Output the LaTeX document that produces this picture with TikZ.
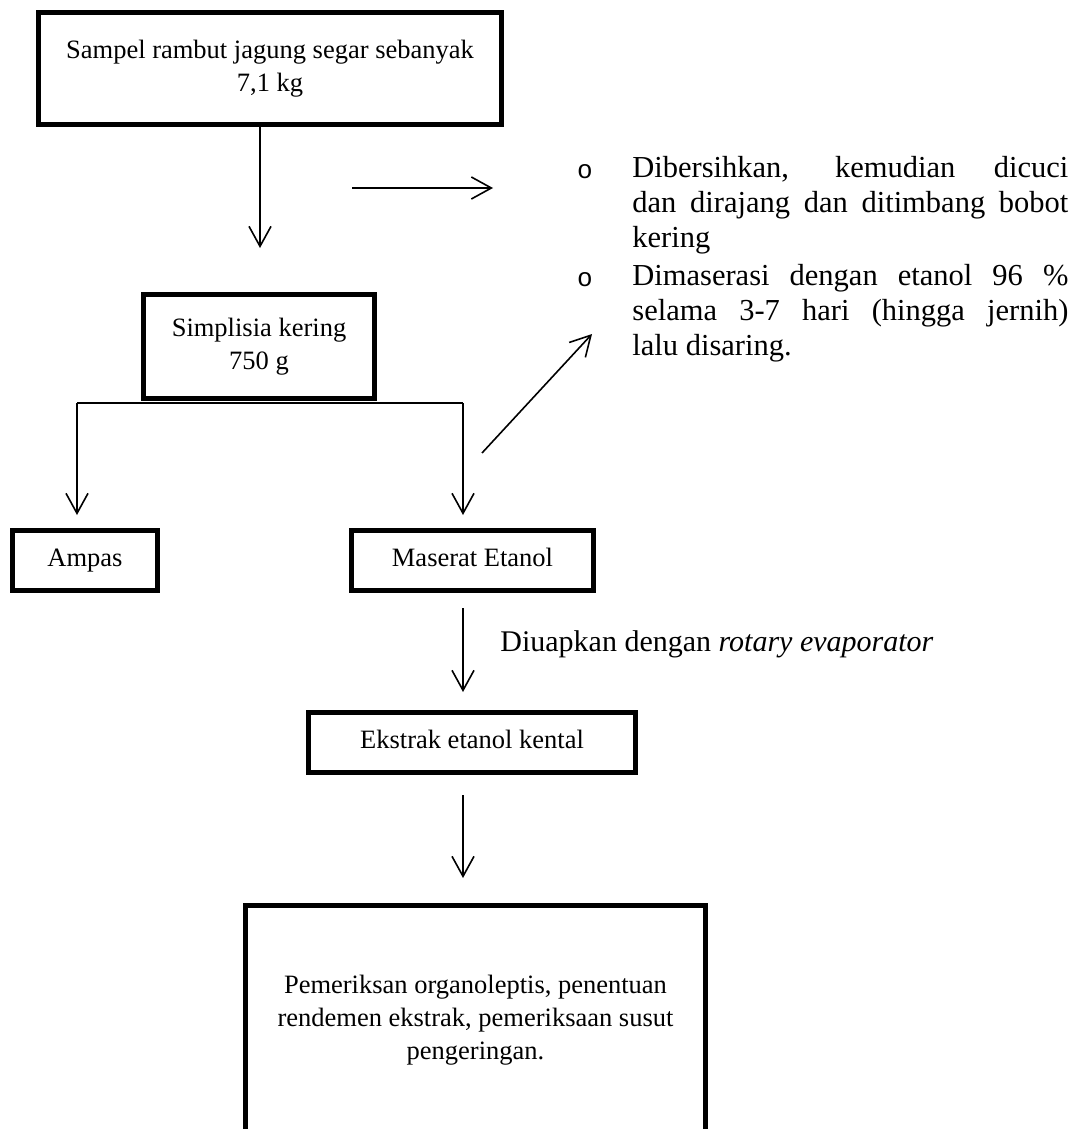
\documentclass[tikz,border=0pt]{standalone}
\usepackage{fontspec}
\setmainfont{Liberation Serif}
\newfontfamily\bulletfont{Liberation Mono}
\usetikzlibrary{arrows.meta}

\tikzset{
  kotak/.style={draw, line width=2.4pt, inner sep=0pt, align=center,
    font=\fontsize{13.25}{16.5}\selectfont},
  satu/.style={text height=9pt, text depth=3pt},
  teks/.style={inner sep=0pt, text width=218pt, align=justify,
    font=\fontsize{15.25}{17.5}\selectfont},
  butir/.style={inner sep=0pt, font=\bulletfont\fontsize{13}{14}\selectfont}
}

\begin{document}
\begin{tikzpicture}[x=0.5pt, y=-0.5pt, >={Straight Barb[length=10pt,width=11pt]}]
\path [use as bounding box, clip] (0,0) rectangle (1075,1129);

\node [kotak, minimum width=231.6pt, minimum height=56.1pt] (sampel) at (270,68.5) {Sampel rambut jagung segar sebanyak\\7,1 kg};
\node [kotak, minimum width=115.6pt, minimum height=52.1pt] (simplisia) at (259,346.5) {Simplisia kering\\750 g};
\node [kotak, satu, minimum width=72.6pt, minimum height=30.1pt] (ampas) at (85,560.5) {Ampas};
\node [kotak, satu, minimum width=121.1pt, minimum height=30.1pt] (maserat) at (472.5,560.5) {Maserat Etanol};
\node [kotak, satu, minimum width=163.6pt, minimum height=30.1pt] (ekstrak) at (472,742.5) {Ekstrak etanol kental};
\node [kotak, minimum width=230pt, minimum height=115pt] (hasil) at (475.5,1020.5) {Pemeriksan organoleptis, penentuan\\rendemen ekstrak, pemeriksaan susut\\pengeringan.};

\node [butir] (b1) at (585,172) {o};
\node [teks, anchor=north west] (t1) at (632,156) {Dibersihkan, kemudian dicuci\linebreak dan dirajang dan ditimbang bobot\linebreak kering};
\node [butir] (b2) at (585,280) {o};
\node [teks, anchor=north west] (t2) at (632,264) {Dimaserasi dengan etanol 96 \%\linebreak selama 3-7 hari (hingga jernih)\linebreak lalu disaring.};
\node [anchor=west, inner sep=0pt, font=\fontsize{15}{16}\selectfont] (uap) at (500,644) {Diuapkan dengan \textit{rotary evaporator}};

\coordinate (a1) at (260,248);
\coordinate (h0) at (352,188);
\coordinate (h1) at (493,188);
\coordinate (ki) at (77,403);
\coordinate (ka) at (463,403);
\coordinate (ki1) at (77,515);
\coordinate (ka1) at (463,515);
\coordinate (d0) at (482,453);
\coordinate (d1) at (592,334);
\coordinate (u0) at (463,608);
\coordinate (u1) at (463,692);
\coordinate (e0) at (463,795);
\coordinate (e1) at (463,878);

\draw [thick, ->] (sampel.south -| a1) to (a1);
\draw [thick, ->] (h0) to (h1);
\draw [semithick] (ki) to (ka);
\draw [thick, ->] (ki) to (ki1);
\draw [thick, ->] (ka) to (ka1);
\draw [thick, ->] (d0) to (d1);
\draw [thick, ->] (u0) to (u1);
\draw [thick, ->] (e0) to (e1);
\end{tikzpicture}
\end{document}
